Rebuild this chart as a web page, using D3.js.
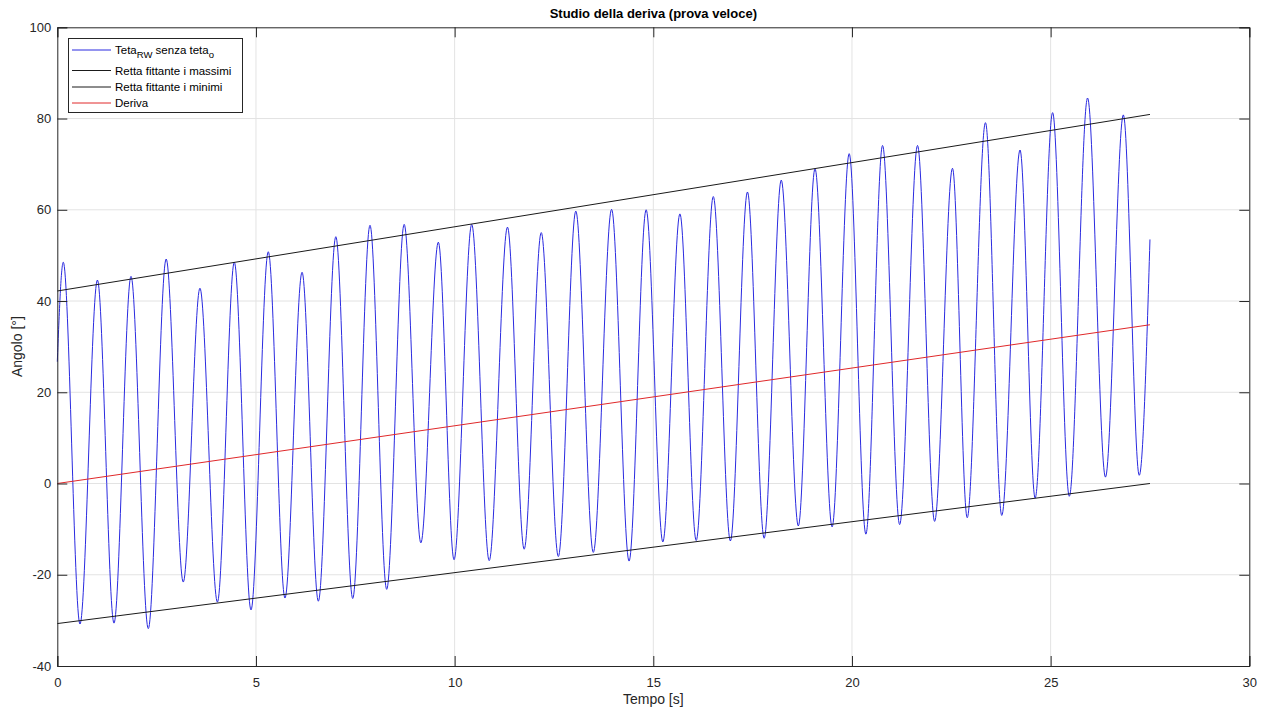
<!DOCTYPE html>
<html>
<head>
<meta charset="utf-8">
<script src="https://cdn.jsdelivr.net/npm/d3@7"></script>
<style>
  html, body { margin: 0; padding: 0; background: #fff; }
  svg { display: block; font-family: "Liberation Sans", Arial, Helvetica, sans-serif; }
</style>
</head>
<body>
<svg id="chart" width="1262" height="708"></svg>
<script>
// Oscillation extrema of the angle signal (time in s, angle in degrees)
const peakTimes  = [0.15, 1.01, 1.855, 2.74, 3.59, 4.455, 5.31, 6.16, 7.01, 7.87, 8.73, 9.59,
                    10.43, 11.33, 12.18, 13.05, 13.95, 14.82, 15.67, 16.51, 17.37, 18.22, 19.07,
                    19.93, 20.77, 21.65, 22.53, 23.36, 24.23, 25.05, 25.93, 26.83];
const peakValues = [48.5, 44.6, 45.4, 49.2, 42.8, 48.5, 50.8, 46.3, 54.1, 56.6, 56.8, 52.9,
                    56.8, 56.2, 55.0, 59.7, 60.1, 60.0, 59.1, 62.9, 63.9, 66.5, 69.0,
                    72.3, 74.1, 74.1, 69.1, 79.1, 73.1, 81.3, 84.5, 80.8];
const troughTimes  = [0.571, 1.427, 2.29, 3.17, 4.03, 4.875, 5.73, 6.57, 7.435, 8.29, 9.15,
                      9.985, 10.87, 11.75, 12.61, 13.49, 14.39, 15.24, 16.08, 16.94, 17.79,
                      18.65, 19.5, 20.35, 21.2, 22.08, 22.9, 23.77, 24.61, 25.47, 26.38, 27.23];
const troughValues = [-30.8, -30.6, -31.8, -21.6, -26.0, -27.7, -25.1, -25.8, -25.2, -23.2, -13.0,
                      -16.7, -16.9, -14.4, -16.0, -15.1, -17.0, -12.8, -12.5, -12.6, -12.0,
                      -9.3, -9.5, -11.1, -9.0, -8.3, -7.5, -7.0, -3.2, -2.8, 1.4, 1.8];
const signalStart = [0, 26.7];
const signalEnd   = [27.5, 53.5];

// Fitted lines: [t, angle] at both ends
const maxFit   = [[0, 42.2], [27.5, 80.9]];
const minFit   = [[0, -30.7], [27.5, 0.0]];
const driftFit = [[0, 0.0], [27.5, 34.8]];

const xTicks = [0, 5, 10, 15, 20, 25, 30];
const yTicks = [-40, -20, 0, 20, 40, 60, 80, 100];

const legendItems = [
  { key: "signal", color: "#2a2ae0" },
  { key: "max",    color: "#1a1a1a" },
  { key: "min",    color: "#1a1a1a" },
  { key: "drift",  color: "#e0282a" }
];

const svg = d3.select("#chart");
const W = 1262, H = 708;
const m = { left: 57.3, right: W - 1249.3, top: 27.3, bottom: H - 666 };

const x = d3.scaleLinear().domain([0, 30]).range([m.left, W - m.right]);
const y = d3.scaleLinear().domain([-40, 100]).range([H - m.bottom, m.top]);

const axisColor = "#262626";
const gridColor = "#e3e3e3";

// grid
const grid = svg.append("g");
grid.selectAll("line.gx").data(xTicks.slice(1, -1)).join("line")
  .attr("x1", d => x(d)).attr("x2", d => x(d))
  .attr("y1", y(-40)).attr("y2", y(100))
  .attr("stroke", gridColor).attr("stroke-width", 1);
grid.selectAll("line.gy").data(yTicks.slice(1, -1)).join("line")
  .attr("x1", x(0)).attr("x2", x(30))
  .attr("y1", d => y(d)).attr("y2", d => y(d))
  .attr("stroke", gridColor).attr("stroke-width", 1);

// data series
const merged = [signalStart]
  .concat(peakTimes.map((t, i) => [t, peakValues[i]]))
  .concat(troughTimes.map((t, i) => [t, troughValues[i]]))
  .concat([signalEnd])
  .sort((a, b) => a[0] - b[0]);

const line = d3.line().x(d => x(d[0])).y(d => y(d[1]));
const smooth = d3.line().x(d => x(d[0])).y(d => y(d[1])).curve(d3.curveMonotoneX);

const plot = svg.append("g");
plot.append("path").datum(merged).attr("d", smooth)
  .attr("fill", "none").attr("stroke", "#2a2ae0").attr("stroke-width", 1);
plot.append("path").datum(maxFit).attr("d", line)
  .attr("fill", "none").attr("stroke", "#1a1a1a").attr("stroke-width", 1);
plot.append("path").datum(minFit).attr("d", line)
  .attr("fill", "none").attr("stroke", "#1a1a1a").attr("stroke-width", 1);
plot.append("path").datum(driftFit).attr("d", line)
  .attr("fill", "none").attr("stroke", "#e0282a").attr("stroke-width", 1);

// axes (ticks pointing inward, on all four sides)
const tickLen = 10;
const fmt = d => d < 0 ? "-" + Math.abs(d) : String(d);
const gxB = svg.append("g").attr("transform", `translate(0,${y(-40)})`)
  .call(d3.axisBottom(x).tickValues(xTicks).tickSize(-tickLen).tickPadding(16).tickFormat(fmt));
const gxT = svg.append("g").attr("transform", `translate(0,${y(100)})`)
  .call(d3.axisTop(x).tickValues(xTicks).tickSize(-tickLen).tickFormat(""));
const gyL = svg.append("g").attr("transform", `translate(${x(0)},0)`)
  .call(d3.axisLeft(y).tickValues(yTicks).tickSize(-tickLen).tickPadding(16).tickFormat(fmt));
const gyR = svg.append("g").attr("transform", `translate(${x(30)},0)`)
  .call(d3.axisRight(y).tickValues(yTicks).tickSize(-tickLen).tickFormat(""));
[gxB, gxT, gyL, gyR].forEach(g => {
  g.select(".domain").attr("stroke", axisColor).attr("stroke-width", 1);
  g.selectAll(".tick line").attr("stroke", axisColor).attr("stroke-width", 1);
  g.selectAll(".tick text").attr("fill", axisColor).attr("font-size", 13)
    .attr("font-family", "Liberation Sans, Arial, sans-serif");
});
gyL.selectAll(".tick text").attr("x", -6);
gxB.selectAll(".tick text").attr("y", 12);

// titles
svg.append("text").attr("x", (x(0) + x(30)) / 2).attr("y", 18)
  .attr("text-anchor", "middle").attr("font-size", 13).attr("font-weight", "bold")
  .attr("fill", "#000").text("Studio della deriva (prova veloce)");
svg.append("text").attr("x", (x(0) + x(30)) / 2).attr("y", 704)
  .attr("text-anchor", "middle").attr("font-size", 14).attr("fill", axisColor)
  .text("Tempo [s]");
svg.append("text").attr("transform", `translate(22,${(y(-40) + y(100)) / 2}) rotate(-90)`)
  .attr("text-anchor", "middle").attr("font-size", 14).attr("fill", axisColor)
  .text("Angolo [°]");

// legend
const lg = svg.append("g");
lg.append("rect").attr("x", 68.5).attr("y", 38.5).attr("width", 174).attr("height", 74)
  .attr("fill", "#fff").attr("stroke", axisColor).attr("stroke-width", 1);
const rowY = [50, 70.5, 87, 103];
legendItems.forEach((it, i) => {
  lg.append("line").attr("x1", 72).attr("x2", 111).attr("y1", rowY[i]).attr("y2", rowY[i])
    .attr("stroke", it.color).attr("stroke-width", 1);
  const t = lg.append("text").attr("x", 115).attr("y", rowY[i] + 4)
    .attr("font-size", 11.5).attr("fill", "#000");
  if (it.key === "signal") {
    t.append("tspan").text("Teta");
    t.append("tspan").attr("font-size", 9.5).attr("dy", 3.5).text("RW");
    t.append("tspan").attr("dy", -3.5).text(" senza teta");
    t.append("tspan").attr("font-size", 9.5).attr("dy", 3.5).text("o");
  } else if (it.key === "max") {
    t.text("Retta fittante i massimi");
  } else if (it.key === "min") {
    t.text("Retta fittante i minimi");
  } else {
    t.text("Deriva");
  }
});
</script>
</body>
</html>
